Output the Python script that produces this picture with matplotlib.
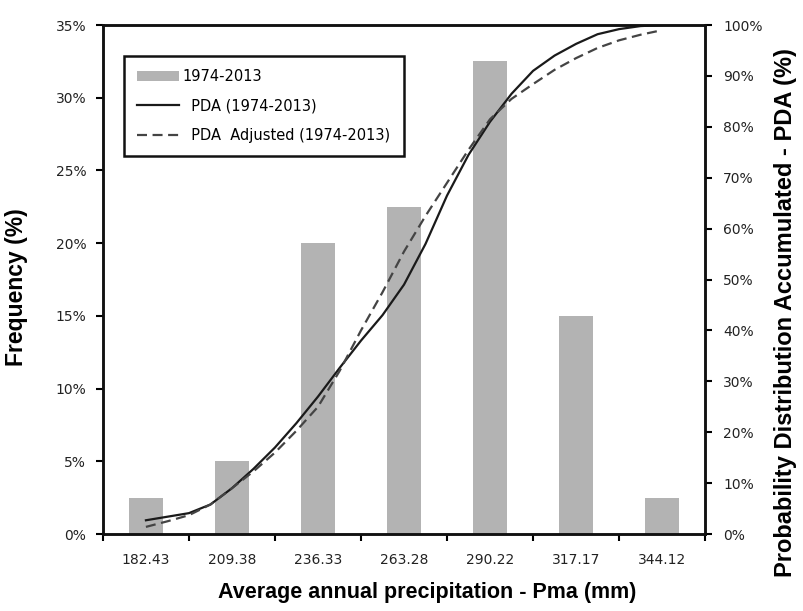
import matplotlib
matplotlib.use('Agg')
import matplotlib.pyplot as plt
from matplotlib.ticker import FuncFormatter, FixedLocator
import numpy as np

# class centres (mm) and observed frequency (%)
classes = ['182.43', '209.38', '236.33', '263.28', '290.22', '317.17', '344.12']
freq = [2.5, 5.0, 20.0, 22.5, 32.5, 15.0, 2.5]

pda_pos = [0, 0.25, 0.5, 0.75, 1, 1.25, 1.5, 1.75, 2, 2.25, 2.5, 2.75, 3,
           3.25, 3.5, 3.75, 4, 4.25, 4.5, 4.75, 5, 5.25, 5.5, 5.75, 6]
pda = [2.7, 3.4, 4.1, 5.8, 9.0, 12.8, 17.0, 21.8, 27.0, 32.6, 38.0, 43.0, 49.0,
       57.0, 66.5, 74.5, 81.0, 86.5, 91.0, 94.0, 96.3, 98.2, 99.2, 99.8, 100.0]
pda_adj = [1.4, 2.5, 3.7, 5.8, 9.0, 12.3, 16.0, 20.3, 25.0, 32.0, 40.0, 47.5, 55.5,
           62.5, 69.0, 75.5, 81.5, 85.5, 88.4, 91.2, 93.5, 95.5, 97.0, 98.1, 99.0]

tick_font = 'DejaVu Sans'
label_font = 'Liberation Sans'
tick_size = 10

fig = plt.figure(figsize=(8.04, 6.11), dpi=100)
ax = fig.add_axes([0.128, 0.126, 0.749, 0.833])
ax2 = ax.twinx()

x = np.arange(len(classes))
bars = ax.bar(x, freq, width=0.4, color='#b3b3b3', label='1974-2013', zorder=1)
l1, = ax2.plot(pda_pos, pda, color='#1a1a1a', lw=1.6,
               label='  PDA (1974-2013)')
l2, = ax2.plot(pda_pos, pda_adj, color='#444444', lw=1.6, ls=(0, (4.5, 2.5)),
               label='  PDA  Adjusted (1974-2013)')

ax.set_xlim(-0.5, len(classes) - 0.5)
ax.set_ylim(0, 35)
ax2.set_ylim(0, 100)

ax.set_xticks(x)
ax.set_xticklabels(classes, fontfamily=tick_font, fontsize=tick_size, color='#222222')
ax.tick_params(axis='x', which='major', length=0, pad=14)
ax.xaxis.set_minor_locator(FixedLocator(np.arange(-0.5, len(classes), 1.0)))
ax.tick_params(axis='x', which='minor', length=5, width=1.5, direction='out')

ax.set_yticks(np.arange(0, 36, 5))
ax.yaxis.set_major_formatter(FuncFormatter(lambda v, p: '%d%%' % v))
ax.tick_params(axis='y', length=5, width=1.5, direction='out', pad=7)
ax2.set_yticks(np.arange(0, 101, 10))
ax2.yaxis.set_major_formatter(FuncFormatter(lambda v, p: '%d%%' % v))
ax2.tick_params(axis='y', length=5, width=1.5, direction='out', pad=8)
for a in (ax, ax2):
    for lab in a.get_yticklabels():
        lab.set_fontfamily(tick_font)
        lab.set_fontsize(tick_size)
        lab.set_color('#222222')

for a in (ax, ax2):
    for s in a.spines.values():
        s.set_linewidth(1.8)
        s.set_color('#111111')

ax.set_ylabel('Frequency (%)', fontfamily=label_font, fontweight='bold', fontsize=16.5)
ax.yaxis.set_label_coords(-0.125, 0.485)
ax2.set_ylabel('Probability Distribution Accumulated - PDA (%)',
               fontfamily=label_font, fontweight='bold', fontsize=17)
ax2.yaxis.set_label_coords(1.115, 0.435)
ax.set_xlabel('Average annual precipitation - Pma (mm)', fontfamily=label_font,
              fontweight='bold', fontsize=15.5)
ax.xaxis.set_label_coords(0.538, -0.095)

leg = ax2.legend([bars, l1, l2], [bars.get_label(), l1.get_label(), l2.get_label()],
                 loc='upper left', bbox_to_anchor=(0.035, 0.94), fancybox=False,
                 framealpha=1, edgecolor='#111111', borderpad=0.9, labelspacing=1.0,
                 handlelength=2.9, handletextpad=0.2, borderaxespad=0,
                 prop={'family': tick_font, 'size': 10.5})
leg.get_frame().set_linewidth(1.8)

fig.savefig('out.png', dpi=100)
